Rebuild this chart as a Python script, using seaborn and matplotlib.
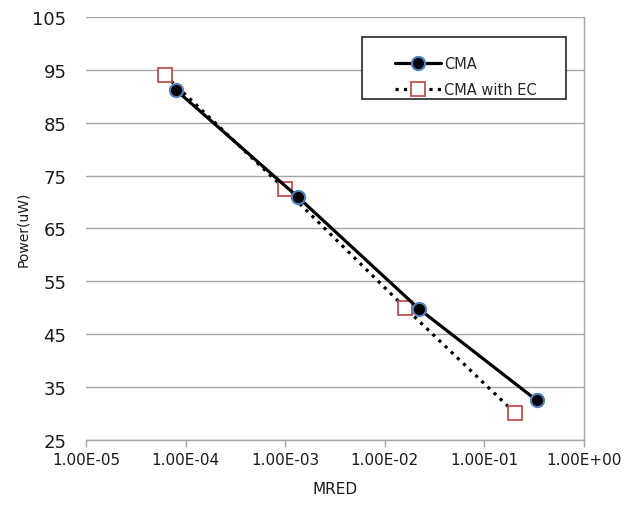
"""Power vs MRED for CMA with and without EC."""
import matplotlib.pyplot as plt
import pandas as pd
import seaborn as sns
from matplotlib.patches import Rectangle

# Data
cma_mred = [8.0e-5, 1.35e-3, 2.2e-2, 0.335]
cma_power = [91.2, 70.9, 49.8, 32.5]
ec_mred = [6.2e-5, 1.0e-3, 1.6e-2, 0.203]
ec_power = [94.0, 72.4, 50.0, 30.1]

x_ticks = [1e-5, 1e-4, 1e-3, 1e-2, 1e-1, 1e0]
x_tick_labels = ["1.00E-05", "1.00E-04", "1.00E-03", "1.00E-02", "1.00E-01", "1.00E+00"]
y_ticks = [25, 35, 45, 55, 65, 75, 85, 95, 105]


def main() -> None:
    sns.set_theme(style="white")
    plt.rcParams["font.family"] = ["DejaVu Sans"]

    cma = pd.DataFrame({"MRED": cma_mred, "Power": cma_power})
    ec = pd.DataFrame({"MRED": ec_mred, "Power": ec_power})

    fig = plt.figure(figsize=(6.25, 5.06), dpi=100)
    ax = fig.add_axes([0.1376, 0.1285, 0.7968, 0.8359])

    sns.lineplot(data=cma, x="MRED", y="Power", ax=ax, color="black", lw=2.3,
                 marker="o", markersize=9.5, markerfacecolor="black",
                 markeredgecolor="#4F81BD", markeredgewidth=1.5, label="CMA",
                 zorder=4)
    sns.lineplot(data=ec, x="MRED", y="Power", ax=ax, color="black", lw=2.3,
                 linestyle=":", marker="s", markersize=10, markerfacecolor="white",
                 markeredgecolor="#C0504D", markeredgewidth=1.3,
                 label="CMA with EC", zorder=3)

    ax.set_xscale("log")
    ax.set_xlim(x_ticks[0], x_ticks[-1])
    ax.set_ylim(y_ticks[0], y_ticks[-1])
    ax.set_xticks(x_ticks)
    ax.set_xticklabels(x_tick_labels, fontsize=11, color="#1a1a1a")
    ax.minorticks_off()
    ax.set_yticks(y_ticks)
    ax.set_yticklabels([str(v) for v in y_ticks], fontsize=13, color="#1a1a1a")
    ax.tick_params(axis="x", direction="out", length=5, width=1, color="#A6A6A6",
                   bottom=True, pad=4)
    ax.tick_params(axis="y", length=0, pad=14)

    ax.grid(axis="y", color="#A6A6A6", lw=1)
    ax.grid(axis="x", visible=False)
    for side in ["top", "left"]:
        ax.spines[side].set_visible(False)
    for side in ["bottom", "right"]:
        ax.spines[side].set_color("#A6A6A6")
        ax.spines[side].set_linewidth(1)

    ax.set_xlabel("MRED", fontsize=11, color="#1a1a1a", labelpad=10)
    ax.set_ylabel("Power(uW)", fontsize=10, color="#1a1a1a", labelpad=2)

    # Legend box drawn separately so the padding matches the reference
    ax.add_patch(Rectangle((0.554, 0.806), 0.41, 0.147, transform=ax.transAxes,
                           facecolor="white", edgecolor="#262626", lw=1.2,
                           clip_on=False, zorder=5))
    leg = ax.legend(loc="upper left", bbox_to_anchor=(0.62, 0.908), frameon=False,
                    fontsize=10.5, handlelength=3.2, handletextpad=0.2,
                    labelspacing=0.75, borderpad=0, borderaxespad=0)
    leg.set_zorder(6)

    fig.savefig("out.png", dpi=100)
    plt.close(fig)


if __name__ == "__main__":
    main()
